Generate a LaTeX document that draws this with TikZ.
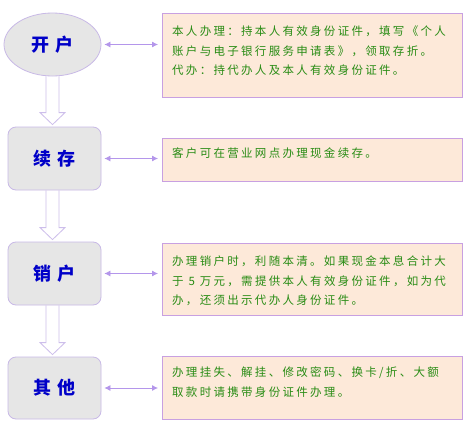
\documentclass[tikz,border=0pt]{standalone}
\usepackage{fontspec}
\newfontfamily\cjk{Noto Sans CJK SC}
\newfontfamily\cjksp{Noto Sans CJK SC}[LetterSpace=20]
\usetikzlibrary{arrows.meta,calc,backgrounds,shapes.geometric}
\definecolor{leftfill}{RGB}{230,230,230}
\definecolor{leftdraw}{RGB}{200,185,230}
\definecolor{rightfill}{RGB}{253,233,217}
\definecolor{rightdraw}{RGB}{200,160,225}
\definecolor{conn}{RGB}{180,150,235}
\definecolor{hollowdraw}{RGB}{205,190,235}
\definecolor{txtgreen}{RGB}{40,140,20}
\definecolor{lblblue}{RGB}{0,0,200}
\tikzset{
  stagelabel/.style={inner sep=0pt, text=lblblue, font=\cjk\bfseries\fontsize{18}{20}\selectfont},
  stagebox/.style={stagelabel, draw=leftdraw, fill=leftfill, line width=0.8pt, rounded corners=8pt, minimum width=93pt, minimum height=63pt},
  stageell/.style={stagelabel, ellipse, draw=leftdraw, fill=leftfill, line width=0.8pt, minimum width=97pt, minimum height=63pt},
  notebox/.style={draw=rightdraw, fill=rightfill, line width=0.8pt, minimum width=300pt, anchor=north west, inner sep=0pt},
  notetext/.style={anchor=north west, inner sep=0pt, align=left, text=txtgreen, font=\cjksp\fontsize{11.5}{19.5}\selectfont},
  dbl/.style={draw=conn, line width=0.8pt, {Latex[length=6pt,width=6pt]}-{Latex[length=6pt,width=6pt]}, shorten <=3pt, shorten >=4pt},
  hollow/.style={draw=hollowdraw, fill=white, line width=0.8pt, line join=miter}
}
\newcommand\hollowarrow[2]{%
  \draw[hollow] let \p1=(#1.south -| s1.south), \p2=(#2.north -| s1.south) in
  (\x1-6.5pt,\y1) -- (\x1-6.5pt,\y2+14pt) -- (\x1-12.5pt,\y2+14pt) -- (\x1,\y2+2pt)
  -- (\x1+12.5pt,\y2+14pt) -- (\x1+6.5pt,\y2+14pt) -- (\x1+6.5pt,\y1);}
\begin{document}
\begin{tikzpicture}[x=1pt,y=-1pt]
\useasboundingbox (0,0) rectangle (467,426);
% left stages
\node[stageell] (s1) at (52.5,44.5) {开\hspace{6pt}户};
\node[stagebox] (s2) at (54.5,158.5) {续\hspace{6pt}存};
\node[stagebox] (s3) at (54.5,273.5) {销\hspace{6pt}户};
\node[stagebox, minimum height=62pt] (s4) at (54.5,388) {其\hspace{6pt}他};
% right notes
\node[notebox, minimum height=84pt] (r1) at (162,13) {};
\node[notebox, minimum height=43pt] (r2) at (162,138) {};
\node[notebox, minimum height=72pt] (r3) at (162,243) {};
\node[notebox, minimum height=63pt] (r4) at (162,356) {};
\node[notetext] (t1) at ($(r1.north west)+(10,13)$) {本人办理：持本人有效身份证件，填写《个人\\账户与电子银行服务申请表》，领取存折。\\代办：持代办人及本人有效身份证件。};
\node[notetext] (t2) at ($(r2.north west)+(10,10)$) {客户可在营业网点办理现金续存。};
\node[notetext] (t3) at ($(r3.north west)+(10,13)$) {办理销户时，利随本清。如果现金本息合计大\\于 5 万元，需提供本人有效身份证件，如为代\\办，还须出示代办人身份证件。};
\node[notetext] (t4) at ($(r4.north west)+(10,11)$) {办理挂失、解挂、修改密码、换卡/折、大额\\取款时请携带身份证件办理。};
% double arrows
\draw[dbl] (s1.east) -- (s1.east -| r1.west);
\draw[dbl] (s2.east) -- (s2.east -| r2.west);
\draw[dbl] (s3.east) -- (s3.east -| r3.west);
\draw[dbl] (s4.east) -- (s4.east -| r4.west);
% hollow arrows
\begin{scope}[on background layer]
\fill[white] (0,0) rectangle (467,426);
\hollowarrow{s1}{s2}
\hollowarrow{s2}{s3}
\hollowarrow{s3}{s4}
\end{scope}
\end{tikzpicture}
\end{document}
